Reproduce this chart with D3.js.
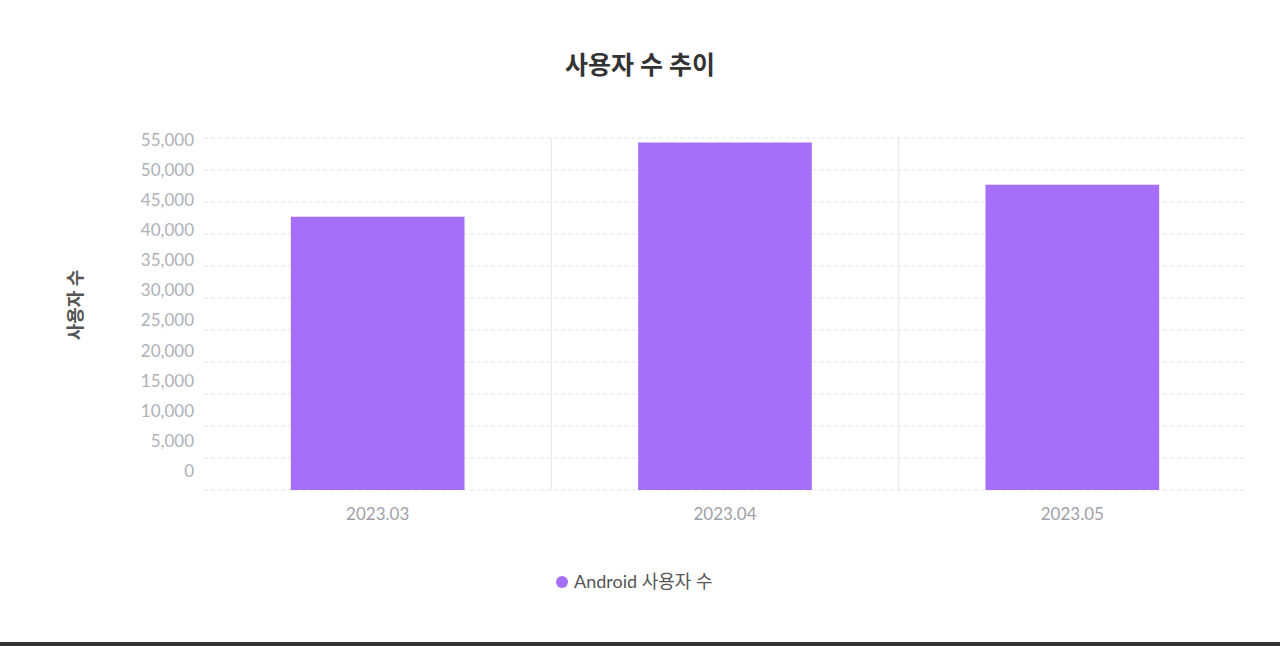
<!DOCTYPE html><html><head><meta charset="utf-8"><script src="https://cdn.jsdelivr.net/npm/d3@7"></script>
<style>body{margin:0;background:#fff;font-family:Lato,"Noto Sans CJK KR",sans-serif}</style></head><body><svg id="c" width="1280" height="646"></svg><script>
const categories=["2023.03","2023.04","2023.05"];
const androidUsers=[42700,54300,47700];
const yTicks=[0,5000,10000,15000,20000,25000,30000,35000,40000,45000,50000,55000];
(function(){
const svg=d3.select("#c");
svg.append("rect").attr("width",1280).attr("height",646).attr("fill","#fff");
const pLeft=204,pRight=1246,pTop=138,pBottom=490;
const x=d3.scaleBand().domain(categories).range([pLeft,pRight]).paddingInner(0).paddingOuter(0);
const y=d3.scaleLinear().domain([0,55000]).range([pBottom,pTop]);
const yl=d3.scaleLinear().domain([0,55000]).range([471,140]);
const fmt=d3.format(",");
svg.selectAll(".g").data(yTicks).join("line").attr("x1",pLeft).attr("x2",pRight).attr("y1",d=>y(d)).attr("y2",d=>y(d)).attr("stroke","#e3e3e3").attr("stroke-dasharray","4,3");
svg.selectAll(".v").data(categories.slice(1)).join("line").attr("x1",d=>x(d)).attr("x2",d=>x(d)).attr("y1",pTop).attr("y2",pBottom).attr("stroke","#e6e6e6");
svg.selectAll(".t").data(yTicks).join("text").attr("x",194).attr("y",d=>yl(d)).attr("dy","0.35em").attr("text-anchor","end").attr("fill","#b0b0b8").attr("font-size",17).text(d=>fmt(d));
svg.selectAll(".b").data(categories).join("rect").attr("x",d=>x(d)+x.bandwidth()/4).attr("width",x.bandwidth()/2).attr("y",(d,i)=>y(androidUsers[i])).attr("height",(d,i)=>pBottom-y(androidUsers[i])).attr("fill","#a66ff9");
svg.selectAll(".xl").data(categories).join("text").attr("x",d=>x(d)+x.bandwidth()/2).attr("y",520).attr("text-anchor","middle").attr("fill","#a0a0a8").attr("font-size",17).text(d=>d);
svg.append("text").attr("x",640).attr("y",74).attr("text-anchor","middle").attr("font-size",25).attr("font-weight","bold").attr("fill","#333").text("사용자 수 추이");
svg.append("text").attr("transform","translate(82,305) rotate(-90)").attr("text-anchor","middle").attr("font-size",18).attr("font-weight","bold").attr("fill","#555").text("사용자 수");
svg.append("circle").attr("cx",562).attr("cy",582).attr("r",6).attr("fill","#a66ff9");
svg.append("text").attr("x",574).attr("y",588).attr("font-size",18).attr("fill","#555").text("Android 사용자 수");
svg.append("rect").attr("x",0).attr("y",642).attr("width",1280).attr("height",4).attr("fill","#333");
})();
</script></body></html>
